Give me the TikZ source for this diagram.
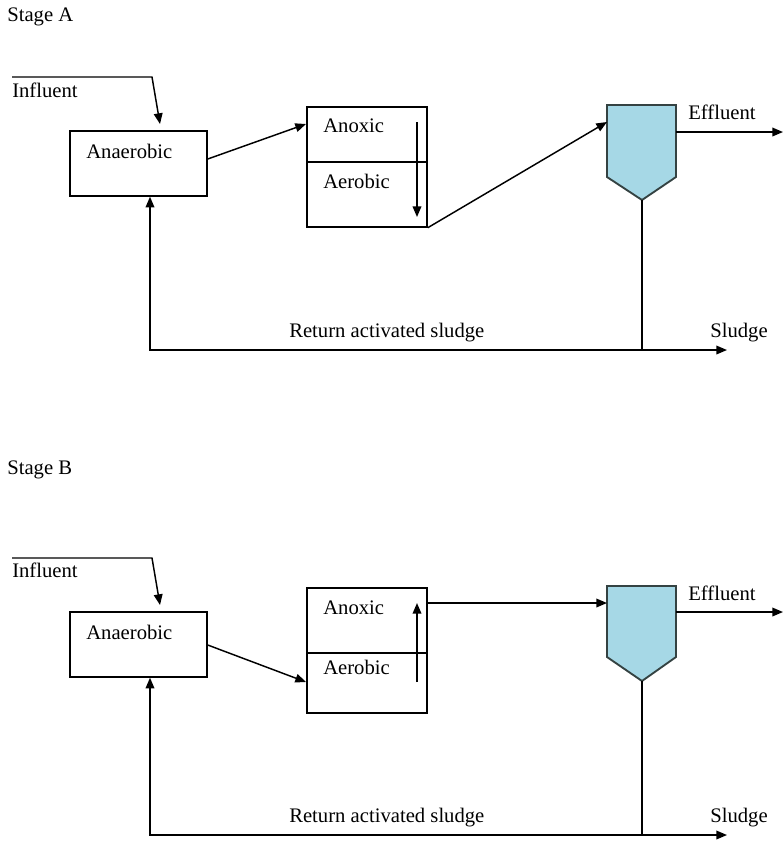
\documentclass[tikz,border=0pt]{standalone}
\usepackage{fontspec}
\setmainfont{Liberation Serif}
\newfontfamily\labelface{Liberation Serif}
\usetikzlibrary{arrows.meta,fit}
\definecolor{tankfill}{RGB}{166,216,230}
\definecolor{tankedge}{RGB}{52,66,66}
\tikzset{
  unitbox/.style={draw, line width=1.1pt, inner sep=0pt},
  lbl/.style={anchor=base west, inner sep=0pt, font=\labelface\fontsize{15.5}{18}\selectfont},
  flow/.style={line width=1.1pt, -{Triangle[length=8pt,width=6.5pt]}},
  pipe/.style={line width=1.1pt},
  tank/.style={draw=tankedge, fill=tankfill, line width=1.4pt, line join=miter}
}
\begin{document}
\begin{tikzpicture}[x=0.75pt, y=-0.75pt]
\useasboundingbox (0,0) rectangle (784,844);

% ================= Stage A =================
\node[lbl] (stageA) at (7,21) {Stage A};

% tanks
\coordinate (anaA-a) at (70,131);
\coordinate (anaA-b) at (207,196);
\node[unitbox, fit=(anaA-a)(anaA-b)] (anaA) {};
\coordinate (reacA-a) at (307,107);
\coordinate (reacA-b) at (427,227);
\node[unitbox, fit=(reacA-a)(reacA-b)] (reacA) {};
\draw[pipe] (reacA.west |- 0,162) -- (reacA.east |- 0,162);
\draw[tank] (607,105) coordinate (clA-tl) -- (676,105) coordinate (clA-tr)
  -- (676,177) -- (642,200) coordinate (clA-b) -- (607,177) -- cycle;

% labels
\node[lbl] (infA) at (12,97) {Influent};
\node[lbl] (anaAtxt) at (86,158) {Anaerobic};
\node[lbl] (anoxA) at (323,132) {Anoxic};
\node[lbl] (aerA) at (323,188) {Aerobic};
\node[lbl] (effA) at (688,119) {Effluent};
\node[lbl] (rasA) at (289,337) {Return activated sludge};
\node[lbl] (sluA) at (710,337) {Sludge};

% connectors
\coordinate (infA-s) at (12,77);
\coordinate (infA-k) at (152,77);
\coordinate (infA-e) at (160,124);
\draw[flow] (infA-s) -- (infA-k) -- (infA-e);
\draw[flow] (anaA.east |- 0,159) -- (306,124);
\draw[flow] (417,122) -- (417,217);
\draw[flow] (reacA.south east) -- (607,122);
\coordinate (effA-e) at (783,132);
\draw[flow] (clA-tr |- 0,132) -- (effA-e);
\coordinate (jA) at (642,350);
\coordinate (cornA) at (150,350);
\coordinate (sluA-e) at (727,350);
\draw[pipe] (clA-b) -- (jA);
\draw[flow] (jA) -- (cornA) -- (cornA |- anaA.south);
\draw[flow] (jA) -- (sluA-e);

% ================= Stage B =================
\node[lbl] (stageB) at (7,474) {Stage B};

\coordinate (anaB-a) at (70,612);
\coordinate (anaB-b) at (207,677);
\node[unitbox, fit=(anaB-a)(anaB-b)] (anaB) {};
\coordinate (reacB-a) at (307,588);
\coordinate (reacB-b) at (427,713);
\node[unitbox, fit=(reacB-a)(reacB-b)] (reacB) {};
\draw[pipe] (reacB.west |- 0,653) -- (reacB.east |- 0,653);
\draw[tank] (607,586) coordinate (clB-tl) -- (676,586) coordinate (clB-tr)
  -- (676,657) -- (642,681) coordinate (clB-b) -- (607,657) -- cycle;

\node[lbl] (infB) at (12,577) {Influent};
\node[lbl] (anaBtxt) at (86,639) {Anaerobic};
\node[lbl] (anoxB) at (323,614) {Anoxic};
\node[lbl] (aerB) at (323,674) {Aerobic};
\node[lbl] (effB) at (688,600) {Effluent};
\node[lbl] (rasB) at (289,822) {Return activated sludge};
\node[lbl] (sluB) at (710,822) {Sludge};

\coordinate (infB-s) at (12,558);
\coordinate (infB-k) at (152,558);
\coordinate (infB-e) at (160,605);
\draw[flow] (infB-s) -- (infB-k) -- (infB-e);
\draw[flow] (anaB.east |- 0,645) -- (306,682);
\draw[flow] (417,682) -- (417,603);
\draw[flow] (reacB.east |- 0,603) -- (clB-tl |- 0,603);
\coordinate (effB-e) at (783,612);
\draw[flow] (clB-tr |- 0,612) -- (effB-e);
\coordinate (jB) at (642,835);
\coordinate (cornB) at (150,835);
\coordinate (sluB-e) at (727,835);
\draw[pipe] (clB-b) -- (jB);
\draw[flow] (jB) -- (cornB) -- (cornB |- anaB.south);
\draw[flow] (jB) -- (sluB-e);
\end{tikzpicture}
\end{document}
